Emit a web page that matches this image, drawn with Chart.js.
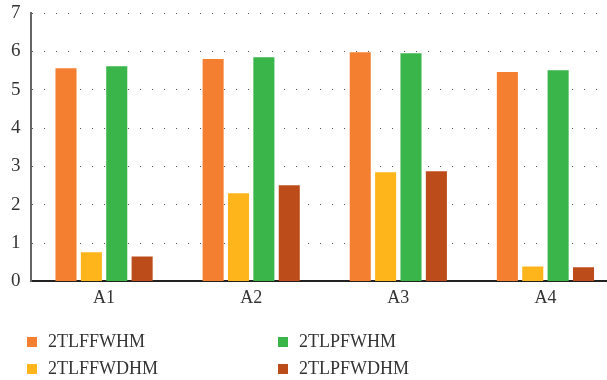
<!DOCTYPE html>
<html>
<head>
<meta charset="utf-8">
<script src="https://cdn.jsdelivr.net/npm/chart.js@4"></script>
<style>
  html, body { margin: 0; padding: 0; background: #fff; overflow: hidden; }
  #wrap { position: relative; width: 607px; height: 380px; overflow: hidden; }
  canvas { display: block; }
  #legend { position: absolute; left: 27px; top: 331px; width: 580px;
            font-family: "Liberation Serif", serif; font-size: 18px; color: #333; }
  .item { position: absolute; white-space: nowrap; line-height: 20px; }
  .box { display: inline-block; width: 10px; height: 10px; margin-right: 11px; vertical-align: 0px; }
</style>
</head>
<body>
<div id="wrap">
  <!-- plot runs a little past the right edge, as in the source image -->
  <canvas id="chart" width="619" height="380"></canvas>
  <div id="legend"></div>
</div>
<script>
"use strict";

var categories = ["A1", "A2", "A3", "A4"];
var seriesNames = ["2TLFFWHM", "2TLFFWDHM", "2TLPFWHM", "2TLPFWDHM"];
var seriesColors = ["#F47F31", "#FDB51B", "#39B54A", "#BC4C19"];
var s2TLFFWHM = [5.56, 5.80, 5.98, 5.46];
var s2TLFFWDHM = [0.76, 2.30, 2.85, 0.39];
var s2TLPFWHM = [5.61, 5.85, 5.95, 5.51];
var s2TLPFWDHM = [0.65, 2.51, 2.87, 0.37];
var yTicks = [0, 1, 2, 3, 4, 5, 6, 7];

var seriesValues = [s2TLFFWHM, s2TLFFWDHM, s2TLPFWHM, s2TLPFWDHM];

function _buildDatasets() {
    var sets = [];
    seriesNames.forEach(function(name, i) {
        sets.push({
            label: name,
            data: seriesValues[i],
            backgroundColor: seriesColors[i],
            borderWidth: 0,
            categoryPercentage: 0.69,
            barPercentage: 0.83
        });
    });
    return sets;
}

var font = "'Liberation Serif', serif";

new Chart(document.getElementById("chart"), {
    type: "bar",
    data: {
        labels: categories,
        datasets: _buildDatasets()
    },
    options: {
        responsive: false,
        animation: false,
        layout: { padding: { left: 1, top: 0, right: 0, bottom: 65 } },
        plugins: {
            legend: { display: false },
            tooltip: { enabled: false }
        },
        scales: {
            x: {
                grid: { display: false, drawTicks: false },
                border: { color: "#222", width: 2 },
                ticks: { color: "#333", font: { family: font, size: 18 }, padding: 6 }
            },
            y: {
                min: 0,
                max: 7,
                afterBuildTicks: function(axis) {
                    axis.ticks = yTicks.map(function(v) { return { value: v }; });
                },
                grid: { color: "#555", lineWidth: 1, drawTicks: false },
                border: { color: "#666", width: 2, dash: [1, 11] },
                // small lineHeight keeps the top label from pushing the plot down
                ticks: { color: "#333", font: { family: font, size: 19, lineHeight: 0.32 }, padding: 10 }
            }
        }
    }
});

// legend in two columns, built from the same arrays
var legend = document.getElementById("legend");
var order = [0, 2, 1, 3];
order.forEach(function(idx, k) {
    var el = document.createElement("div");
    el.className = "item";
    el.style.left = (k % 2 === 0 ? 0 : 251) + "px";
    el.style.top = (k < 2 ? 0 : 27) + "px";
    el.innerHTML = '<span class="box" style="background:' + seriesColors[idx] + '"></span>' + seriesNames[idx];
    legend.appendChild(el);
});
</script>
</body>
</html>
